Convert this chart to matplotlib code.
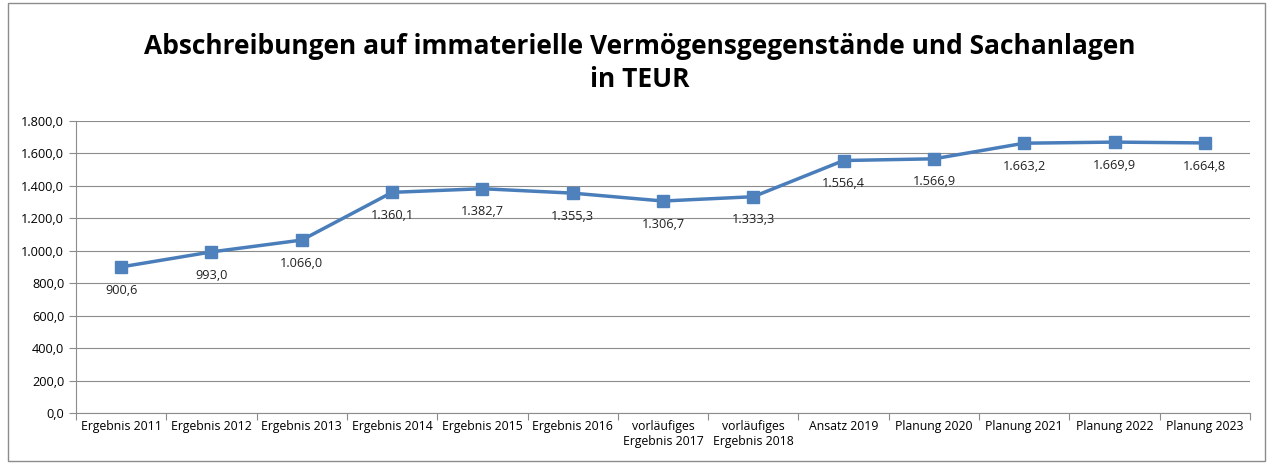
import matplotlib.pyplot as plt
import numpy as np
from matplotlib.patches import Rectangle
from matplotlib.ticker import FuncFormatter

categories = [
    "Ergebnis 2011", "Ergebnis 2012", "Ergebnis 2013", "Ergebnis 2014",
    "Ergebnis 2015", "Ergebnis 2016", "vorläufiges\nErgebnis 2017",
    "vorläufiges\nErgebnis 2018", "Ansatz 2019", "Planung 2020",
    "Planung 2021", "Planung 2022", "Planung 2023",
]
values = [900.6, 993.0, 1066.0, 1360.1, 1382.7, 1355.3, 1306.7,
          1333.3, 1556.4, 1566.9, 1663.2, 1669.9, 1664.8]
yticks = np.arange(0, 1801, 200)


def de_fmt(v, pos=None):
    s = f"{v:,.1f}"
    return s.replace(",", "X").replace(".", ",").replace("X", ".")


plt.rcParams["font.family"] = ["Open Sans", "DejaVu Sans"]

fig = plt.figure(figsize=(12.71, 4.63), dpi=100)
fig.patches.append(Rectangle((8 / 1271, 2 / 463), 1257 / 1271, 458 / 463,
                             transform=fig.transFigure, fill=False,
                             edgecolor="#8c8c8c", linewidth=1.0))

ax = fig.add_axes([76 / 1271, 50 / 463, 1174 / 1271, 292 / 463])
x = np.arange(len(categories))
line_col = "#4a7ebb"
ax.plot(x, values, color=line_col, linewidth=2.5, marker="s",
        markersize=8, markerfacecolor="#4f81bd", markeredgecolor="#4f81bd")

for xi, v in zip(x, values):
    ax.annotate(de_fmt(v), (xi, v), xytext=(0, -12), textcoords="offset points",
                ha="center", va="top", fontsize=9.2, color="#222222")

ax.set_xlim(-0.5, len(categories) - 0.5)
ax.set_ylim(0, 1800)
ax.set_yticks(yticks)
ax.yaxis.set_major_formatter(FuncFormatter(de_fmt))
ax.grid(axis="y", color="#8c8c8c", linewidth=0.8)
ax.set_axisbelow(True)

ax.set_xticks(np.arange(-0.5, len(categories), 1.0))
ax.set_xticklabels([])
ax.set_xticks(x, minor=True)
ax.set_xticklabels(categories, minor=True, fontsize=8.8)
ax.tick_params(axis="x", which="major", length=5, color="#8c8c8c")
ax.tick_params(axis="x", which="minor", length=0, pad=5)
ax.tick_params(axis="y", length=5, color="#8c8c8c", labelsize=9.2)

for s in ["top", "right"]:
    ax.spines[s].set_visible(False)
for s in ["left", "bottom"]:
    ax.spines[s].set_color("#8c8c8c")

fig.text(0.503, 0.900, "Abschreibungen auf immaterielle Vermögensgegenstände und Sachanlagen",
         ha="center", va="center", fontsize=19, fontweight="bold")
fig.text(0.503, 0.829, "in TEUR", ha="center", va="center", fontsize=19, fontweight="bold")

fig.savefig("out.png", dpi=100)
